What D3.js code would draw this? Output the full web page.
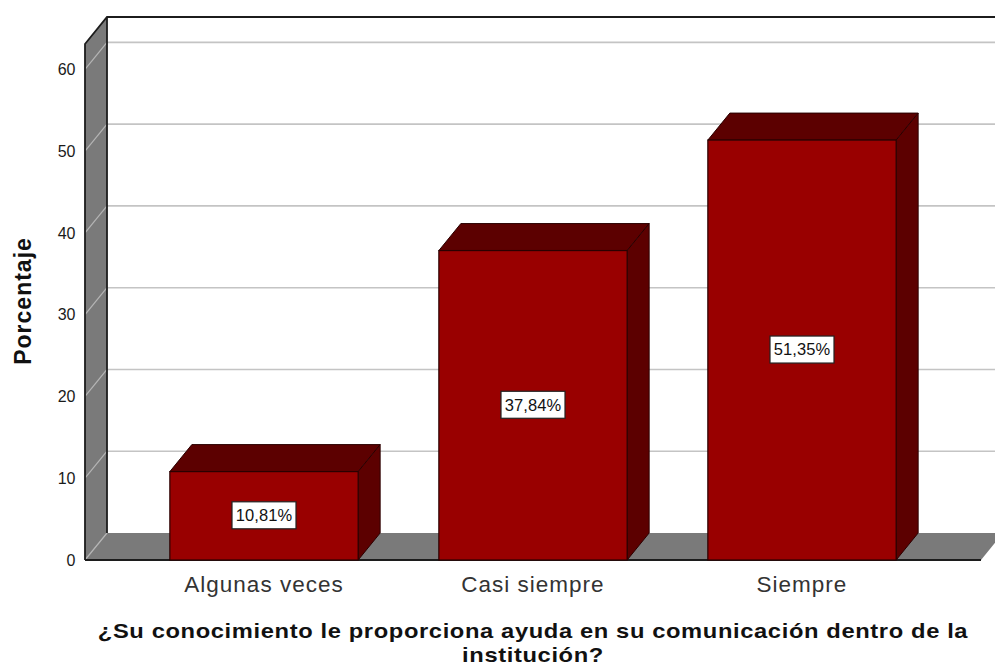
<!DOCTYPE html>
<html><head><meta charset="utf-8">
<script src="https://cdn.jsdelivr.net/npm/d3@7"></script>
<style>html,body{margin:0;padding:0;background:#fff;overflow:hidden}svg{display:block}text{font-family:"Liberation Sans",Arial,sans-serif}</style>
</head><body><svg id="c" width="995" height="666"></svg>
<script>
const categories = ["Algunas veces","Casi siempre","Siempre"];
const values = [10.81,37.84,51.35];
const valueLabels = ["10,81%","37,84%","51,35%"];
const yTicks = [0,10,20,30,40,50,60];
const axisMax = 63.1;
const titleLines = ["¿Su conocimiento le proporciona ayuda en su comunicación dentro de la","institución?"];
const yTitle = "Porcentaje";

const svg = d3.select("#c");
const depthX = 22, depthY = -27;
const left = 85, floorRight = 981;
const y = d3.scaleLinear().domain([0,axisMax]).range([560,44]);
const x = d3.scaleBand().domain(categories).range([129.5,936.5]).paddingInner(0.3).paddingOuter(0.15);
const poly = pts => pts.map(p=>p.join(",")).join(" ");
const y0 = y(0), yT = y(axisMax);

// floor
svg.append("polygon").attr("points",poly([[left,y0],[left+depthX,y0+depthY],[floorRight+depthX,y0+depthY],[floorRight,y0]]))
  .attr("fill","#7a7a7a");
// side wall
svg.append("polygon").attr("points",poly([[left,y0],[left,yT],[left+depthX,yT+depthY],[left+depthX,y0+depthY]]))
  .attr("fill","#7a7a7a");
// gridlines
yTicks.slice(1).forEach(t=>{
  svg.append("line").attr("x1",left+depthX).attr("x2",995).attr("y1",y(t)+depthY).attr("y2",y(t)+depthY).attr("stroke","#c4c4c4").attr("stroke-width",1.6);
  svg.append("line").attr("x1",left).attr("x2",left+depthX).attr("y1",y(t)).attr("y2",y(t)+depthY).attr("stroke","#b5b5b5").attr("stroke-width",1.2);
});
svg.append("line").attr("x1",left).attr("x2",left+depthX).attr("y1",y0).attr("y2",y0+depthY).attr("stroke","#b5b5b5").attr("stroke-width",1.2);
// frame lines
const dark="#1c1c1c";
svg.append("path").attr("fill","none").attr("stroke",dark).attr("stroke-width",1.8)
  .attr("d",`M${left},${y0}V${yT}L${left+depthX},${yT+depthY}H995`);
svg.append("line").attr("x1",left+depthX).attr("x2",left+depthX).attr("y1",yT+depthY).attr("y2",y0+depthY).attr("stroke",dark).attr("stroke-width",1.8);
svg.append("line").attr("x1",left).attr("x2",floorRight).attr("y1",y0).attr("y2",y0).attr("stroke",dark).attr("stroke-width",1.8);

// ticks
svg.append("g").selectAll("text").data(yTicks).join("text")
  .attr("x",75.5).attr("y",d=>y(d)).attr("dy","0.36em").attr("text-anchor","end")
  .attr("font-size",16).attr("fill","#1a1a1a").text(d=>d);

// bars
const bars = svg.append("g").selectAll("g").data(values).join("g");
const edge="#2a0000";
bars.append("polygon").attr("fill","#5c0000").attr("stroke",edge).attr("stroke-width",1)
  .attr("points",(d,i)=>{const a=x(categories[i]),b=a+x.bandwidth(),t=y(d);return poly([[a,t],[a+depthX,t+depthY],[b+depthX,t+depthY],[b,t]]);});
bars.append("polygon").attr("fill","#5c0000").attr("stroke",edge).attr("stroke-width",1)
  .attr("points",(d,i)=>{const b=x(categories[i])+x.bandwidth(),t=y(d);return poly([[b,t],[b+depthX,t+depthY],[b+depthX,y0+depthY],[b,y0]]);});
bars.append("rect").attr("fill","#990000").attr("stroke",edge).attr("stroke-width",1.2)
  .attr("x",(d,i)=>x(categories[i])).attr("width",x.bandwidth())
  .attr("y",d=>y(d)).attr("height",d=>y0-y(d));

// value labels
const lab = svg.append("g").selectAll("g").data(values).join("g")
  .attr("transform",(d,i)=>`translate(${x(categories[i])+x.bandwidth()/2},${(y(d)+y0)/2})`);
lab.append("rect").attr("x",-32).attr("y",-14).attr("width",64).attr("height",27)
  .attr("fill","#fff").attr("stroke","#222").attr("stroke-width",1.2);
lab.append("text").attr("text-anchor","middle").attr("dy","0.36em").attr("y",-0.5)
  .attr("font-size",16.5).attr("letter-spacing",0.1).attr("fill","#111").text((d,i)=>valueLabels[i]);

// category labels
svg.append("g").selectAll("text").data(categories).join("text")
  .attr("x",d=>x(d)+x.bandwidth()/2).attr("y",592).attr("text-anchor","middle")
  .attr("font-size",22.5).attr("letter-spacing",1).attr("fill","#333").text(d=>d);

// titles
svg.append("text").attr("transform","translate(31,301) rotate(-90)").attr("text-anchor","middle")
  .attr("font-size",23).attr("letter-spacing",1).attr("font-weight","bold").attr("fill","#111").text(yTitle);
svg.append("g").selectAll("text").data(titleLines).join("text")
  .attr("transform",(d,i)=>`translate(533,${638+i*23.5}) scale(1.13,1)`).attr("text-anchor","middle")
  .attr("font-size",21).attr("letter-spacing",0.55).attr("font-weight","bold").attr("fill","#111").text(d=>d);
</script></body></html>
